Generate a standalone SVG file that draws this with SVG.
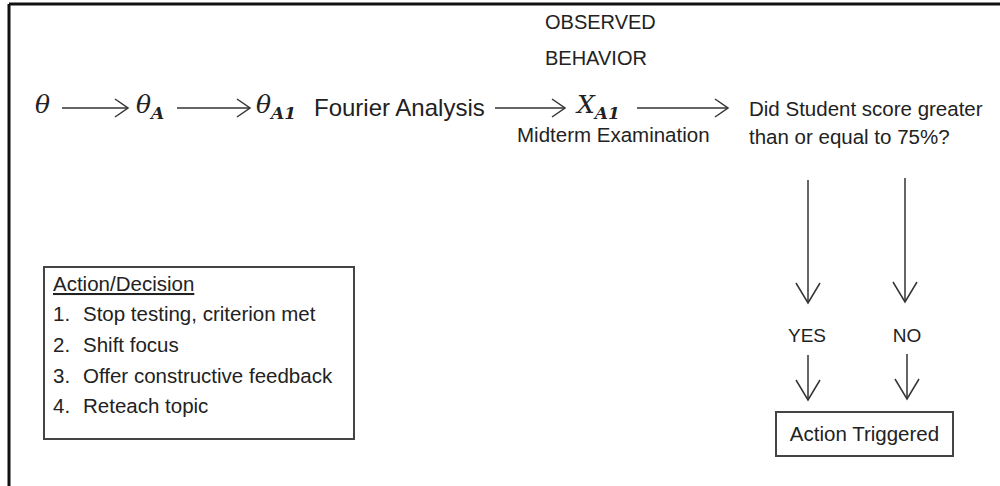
<svg xmlns="http://www.w3.org/2000/svg" width="1000" height="486" viewBox="0 0 1000 486">
<defs>
<marker id="ah" markerUnits="userSpaceOnUse" markerWidth="16" markerHeight="20" refX="13" refY="9" orient="auto" overflow="visible">
<path d="M0,0 L13,9 L0,18" fill="none" stroke="#333" stroke-width="1.5"/>
</marker>
<marker id="av" markerUnits="userSpaceOnUse" markerWidth="22" markerHeight="28" refX="20" refY="12" orient="auto" overflow="visible">
<path d="M0,0 L20,12 L0,24" fill="none" stroke="#333" stroke-width="1.5"/>
</marker>
</defs>
<style>
.t{font-family:"Liberation Sans",Arial,sans-serif;fill:#222}
.m{font-family:"DejaVu Serif","Liberation Serif",serif;font-style:italic;fill:#222}
.sb{font-family:"DejaVu Serif","Liberation Serif",serif;font-weight:bold;fill:#222}
.c{stroke:#333;stroke-width:1.5;fill:none}
.box{fill:#fff;stroke:#444;stroke-width:2}
</style>
<rect width="1000" height="486" fill="#fff"/>
<g id="frame">
<path d="M9,4 H1000 M9,4 V486" stroke="#111" stroke-width="3" fill="none"/>
</g>
<g id="theta"><text class="m" x="35" y="113" font-size="25">θ</text></g>
<g id="thetaA"><text class="m" x="136" y="113" font-size="25">θ<tspan class="sb" font-style="italic" font-size="17" dy="6">A</tspan></text></g>
<g id="thetaA1"><text class="m" x="256" y="113" font-size="25">θ<tspan class="sb" font-style="italic" font-size="17" dy="6">A</tspan><tspan class="sb" font-size="17">1</tspan></text>
<text class="t" x="314" y="116" font-size="24">Fourier Analysis</text></g>
<g id="observed"><text class="t" x="545" y="29" font-size="20">OBSERVED</text><text class="t" x="545" y="65" font-size="20">BEHAVIOR</text></g>
<g id="XA1"><text class="m" x="577" y="113" font-size="25">X<tspan class="sb" font-style="italic" font-size="17" dy="6">A</tspan><tspan class="sb" font-size="17">1</tspan></text>
<text class="t" x="517" y="142" font-size="20.5">Midterm Examination</text></g>
<g id="question"><text class="t" x="749" y="116" font-size="20.5">Did Student score greater</text><text class="t" x="749" y="144" font-size="20.5">than or equal to 75%?</text></g>
<g id="yes"><text class="t" x="807" y="342" font-size="19" text-anchor="middle">YES</text></g>
<g id="no"><text class="t" x="907" y="342" font-size="19" text-anchor="middle">NO</text></g>
<g id="action"><rect class="box" x="776" y="412" width="177" height="44" stroke-width="1.5"/><text class="t" x="864.5" y="441" font-size="20.5" text-anchor="middle">Action Triggered</text></g>
<g id="legend"><rect class="box" x="44" y="267" width="310" height="172"/>
<text class="t" x="53" y="291" font-size="20.5" text-decoration="underline">Action/Decision</text>
<text class="t" x="53" y="321" font-size="20.5">1.</text><text class="t" x="83" y="321" font-size="20.5">Stop testing, criterion met</text>
<text class="t" x="53" y="352" font-size="20.5">2.</text><text class="t" x="83" y="352" font-size="20.5">Shift focus</text>
<text class="t" x="53" y="383" font-size="20.5">3.</text><text class="t" x="83" y="383" font-size="20.5">Offer constructive feedback</text>
<text class="t" x="53" y="413" font-size="20.5">4.</text><text class="t" x="83" y="413" font-size="20.5">Reteach topic</text>
</g>
<g id="connectors">
<line class="c" x1="62" y1="108" x2="128" y2="108" marker-end="url(#ah)"/>
<line class="c" x1="177" y1="108" x2="250" y2="108" marker-end="url(#ah)"/>
<line class="c" x1="495" y1="108" x2="565" y2="108" marker-end="url(#ah)"/>
<line class="c" x1="637" y1="108" x2="728" y2="108" marker-end="url(#ah)"/>
<line class="c" x1="808" y1="180" x2="808" y2="303" marker-end="url(#av)"/>
<line class="c" x1="905" y1="178" x2="905" y2="302" marker-end="url(#av)"/>
<line class="c" x1="808" y1="355" x2="808" y2="400" marker-end="url(#av)"/>
<line class="c" x1="907" y1="354" x2="907" y2="399" marker-end="url(#av)"/>
</g>
</svg>
